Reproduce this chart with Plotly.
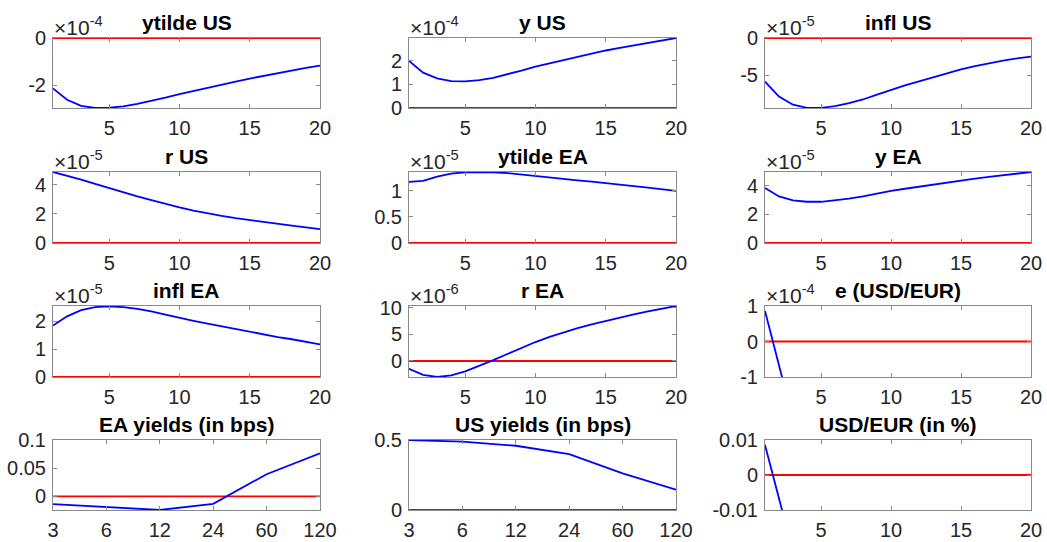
import plotly.graph_objects as go

# ---------------- data ----------------
t = list(range(1, 21))
maturities = ["3", "6", "12", "24", "60", "120"]

# values in the units shown on each axis (multiplier shown as "x10^n")
ytilde_us = [-2.14, -2.62, -2.88, -2.97, -2.96, -2.90, -2.80, -2.68, -2.53, -2.38,
             -2.24, -2.11, -1.98, -1.85, -1.72, -1.60, -1.48, -1.37, -1.27, -1.17]   # x1e-4
y_us = [2.00, 1.50, 1.26, 1.14, 1.13, 1.18, 1.28, 1.42, 1.59, 1.76,
        1.90, 2.04, 2.17, 2.31, 2.44, 2.55, 2.66, 2.76, 2.87, 2.97]                  # x1e-4
infl_us = [-5.9, -7.9, -9.0, -9.43, -9.42, -9.2, -8.8, -8.3, -7.65, -7.0,
           -6.4, -5.85, -5.3, -4.75, -4.25, -3.8, -3.4, -3.05, -2.75, -2.5]          # x1e-5
r_us = [4.88, 4.63, 4.36, 4.07, 3.77, 3.49, 3.20, 2.94, 2.68, 2.45,
        2.23, 2.03, 1.86, 1.71, 1.57, 1.44, 1.32, 1.20, 1.07, 0.95]                  # x1e-5
ytilde_ea = [1.17, 1.19, 1.27, 1.33, 1.355, 1.36, 1.355, 1.34, 1.31, 1.28,
             1.255, 1.23, 1.20, 1.175, 1.15, 1.12, 1.09, 1.06, 1.03, 1.00]          # x1e-5
y_ea = [3.84, 3.25, 2.98, 2.88, 2.88, 2.97, 3.10, 3.26, 3.46, 3.64,
        3.79, 3.94, 4.09, 4.24, 4.38, 4.50, 4.62, 4.74, 4.85, 4.96]                  # x1e-5
infl_ea = [1.84, 2.17, 2.39, 2.50, 2.53, 2.50, 2.44, 2.35, 2.23, 2.11,
           2.01, 1.91, 1.81, 1.71, 1.62, 1.52, 1.43, 1.35, 1.26, 1.17]               # x1e-5
r_ea = [-1.45, -2.6, -3.0, -2.7, -1.95, -0.95, 0.15, 1.3, 2.45, 3.55,
        4.5, 5.35, 6.15, 6.85, 7.5, 8.15, 8.75, 9.3, 9.8, 10.3]                      # x1e-6
e_usd_eur = [0.86, -0.64, -2.2]                                                      # x1e-4
ea_yields = [-0.0135, -0.0194, -0.024, -0.013, 0.0394, 0.0765]
us_yields = [0.500, 0.488, 0.459, 0.399, 0.261, 0.145]
usd_eur_pct = [0.0086, -0.0064, -0.022]

x_ticks = [5, 10, 15, 20]

panels = [
    ("ytilde US", "-4", t, ytilde_us, [-2.97, 0], [-2, 0], ["-2", "0"]),
    ("y US", "-4", t, y_us, [0, 2.97], [0, 1, 2], ["0", "1", "2"]),
    ("infl US", "-5", t, infl_us, [-9.45, 0], [-5, 0], ["-5", "0"]),
    ("r US", "-5", t, r_us, [0, 4.88], [0, 2, 4], ["0", "2", "4"]),
    ("ytilde EA", "-5", t, ytilde_ea, [0, 1.36], [0, 0.5, 1], ["0", "0.5", "1"]),
    ("y EA", "-5", t, y_ea, [0, 4.96], [0, 2, 4], ["0", "2", "4"]),
    ("infl EA", "-5", t, infl_ea, [0, 2.54], [0, 1, 2], ["0", "1", "2"]),
    ("r EA", "-6", t, r_ea, [-3.0, 10.3], [0, 5, 10], ["0", "5", "10"]),
    ("e (USD/EUR)", "-4", t[:3], e_usd_eur, [-1, 1], [-1, 0, 1], ["-1", "0", "1"]),
    ("EA yields (in bps)", None, maturities, ea_yields, [-0.024, 0.1], [0, 0.05, 0.1], ["0", "0.05", "0.1"]),
    ("US yields (in bps)", None, maturities, us_yields, [0, 0.5], [0, 0.5], ["0", "0.5"]),
    ("USD/EUR (in %)", None, t[:3], usd_eur_pct, [-0.01, 0.01], [-0.01, 0, 0.01], ["-0.01", "0", "0.01"]),
]

# ---------------- layout geometry (pixels) ----------------
W, H = 1047, 542
cols = [(53, 320), (409, 676), (765, 1031)]
rows = [(38, 108), (172, 243), (306, 377), (440, 510)]

FONT = "Liberation Sans, Arial, Helvetica, sans-serif"
AX_COLOR = "#8a8a8a"
TXT = "#262626"

fig = go.Figure()
annotations = []
layout = {}

for i, (title, expo, xs, ys, yr, ytv, ytt) in enumerate(panels):
    r, c = divmod(i, 3)
    n = i + 1
    xa = "x" if n == 1 else f"x{n}"
    ya = "y" if n == 1 else f"y{n}"
    xl = "xaxis" if n == 1 else f"xaxis{n}"
    yl = "yaxis" if n == 1 else f"yaxis{n}"
    x0, x1 = cols[c]
    t0, t1 = rows[r]
    xdom = [x0 / W, x1 / W]
    ydom = [1 - t1 / H, 1 - t0 / H]

    categorical = isinstance(xs[0], str)
    xfull = maturities if categorical else t

    # red zero reference line
    fig.add_trace(go.Scatter(x=xfull, y=[0] * len(xfull), mode="lines",
                             line=dict(color="#ff0000", width=1.8),
                             xaxis=xa, yaxis=ya, showlegend=False, hoverinfo="skip"))
    # blue response
    fig.add_trace(go.Scatter(x=xs, y=ys, mode="lines",
                             line=dict(color="#0000ff", width=1.8),
                             xaxis=xa, yaxis=ya, showlegend=False))

    common = dict(showline=True, linecolor=AX_COLOR, linewidth=1, mirror="ticks",
                  ticks="inside", ticklen=4, tickcolor=AX_COLOR, tickwidth=1,
                  showgrid=False, zeroline=False, automargin=False,
                  tickfont=dict(family=FONT, size=20, color=TXT))
    if categorical:
        layout[xl] = dict(domain=xdom, anchor=ya, type="category",
                          range=[0, len(maturities) - 1], ticklabelstandoff=2, **common)
    else:
        layout[xl] = dict(domain=xdom, anchor=ya, range=[1, 20],
                          tickvals=x_ticks, ticktext=[str(v) for v in x_ticks],
                          ticklabelstandoff=2, **common)
    layout[yl] = dict(domain=ydom, anchor=xa, range=yr, tickvals=ytv, ticktext=ytt,
                      ticklabelstandoff=2, **common)

    annotations.append(dict(text=f"<b>{title}</b>", x=(xdom[0] + xdom[1]) / 2, y=ydom[1],
                            xref="paper", yref="paper", xanchor="center", yanchor="bottom",
                            yshift=2, showarrow=False,
                            font=dict(family=FONT, size=21, color="#000000")))
    if expo:
        annotations.append(dict(text=f"×10<sup>{expo}</sup>", x=xdom[0], y=ydom[1],
                                xref="paper", yref="paper", xanchor="left", yanchor="bottom",
                                xshift=-1, yshift=-3, showarrow=False,
                                font=dict(family=FONT, size=21, color=TXT)))

fig.update_layout(width=W, height=H, margin=dict(l=0, r=0, t=0, b=0),
                  paper_bgcolor="white", plot_bgcolor="white",
                  annotations=annotations, showlegend=False, **layout)

fig.write_html("out.html", config={"displayModeBar": False},
               post_script="document.body.style.margin='0';document.body.style.overflow='hidden';")
